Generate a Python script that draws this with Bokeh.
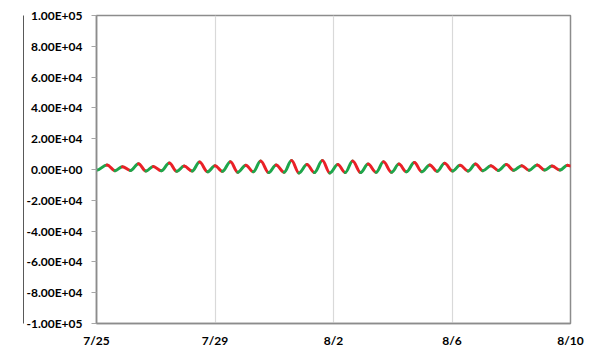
from bokeh.plotting import figure
from bokeh.models import Range1d, FixedTicker, ColumnDataSource, LinearAxis
from bokeh.embed import file_html
from bokeh.resources import INLINE

# extrema of the record: time (hours after 7/25 00:00) and value
hours = [0, 8.5, 15, 21, 27.5, 34, 40, 46, 52.5, 59, 65, 71, 77.5, 83.5, 90, 96,
         102, 108.5, 114.5, 121, 127, 133, 139.5, 145.5, 152, 158, 164, 170.5,
         176.5, 183, 189, 195.5, 201.5, 207.5, 214, 220, 226.5, 232.5, 239, 245,
         251, 257.5, 263.5, 270, 276, 282, 288.5, 294.5, 301, 307, 313, 319.5,
         325.5, 332, 338, 344.5, 350.5, 357, 363, 369, 375.5, 381.5, 384]
values = [-500, 3000, -800, 1800, -600, 3800, -1000, 2000, -800, 4200, -1200,
          2200, -1000, 4800, -1500, 2500, -1200, 5000, -1800, 2800, -1500, 5500,
          -2000, 3000, -1800, 5800, -2200, 3200, -2000, 5800, -2200, 3200, -2000,
          5500, -2000, 3500, -1800, 5000, -1800, 3500, -1500, 4500, -1500, 3000,
          -1200, 4000, -1000, 2800, -1000, 3500, -800, 2500, -600, 3200, -500,
          2500, -500, 3000, -400, 2200, -400, 2800, 2300]

x_tick_days = [0, 4, 8, 12, 16]
x_tick_labels = ["7/25", "7/29", "8/2", "8/6", "8/10"]
y_ticks = [-100000, -80000, -60000, -40000, -20000, 0, 20000, 40000, 60000, 80000, 100000]

rise_color = "#1ea64b"
fall_color = "#ea2027"

x0, y0, x1, y1, cx0, cy0, cx1, cy1, cols = [], [], [], [], [], [], [], [], []
for i in range(len(hours) - 1):
    a, b = hours[i] / 24.0, hours[i + 1] / 24.0
    va, vb = values[i], values[i + 1]
    d = b - a
    x0.append(a); y0.append(va); x1.append(b); y1.append(vb)
    cx0.append(a + 0.364 * d); cy0.append(va)
    cx1.append(b - 0.364 * d); cy1.append(vb)
    cols.append(rise_color if vb > va else fall_color)

src = ColumnDataSource(dict(x0=x0, y0=y0, x1=x1, y1=y1, cx0=cx0, cy0=cy0,
                            cx1=cx1, cy1=cy1, c=cols))

p = figure(width=592, height=350, output_backend="svg", toolbar_location=None,
           x_range=Range1d(0, 16), y_range=Range1d(-100000, 100000),
           min_border_left=96, min_border_right=22, min_border_top=15,
           min_border_bottom=26)

p.bezier(x0="x0", y0="y0", x1="x1", y1="y1", cx0="cx0", cy0="cy0",
         cx1="cx1", cy1="cy1", source=src, line_color="c", line_width=3,
         line_cap="round")

p.outline_line_color = "#8c8c8c"
p.outline_line_width = 1.5

p.xaxis.ticker = FixedTicker(ticks=x_tick_days)
p.xaxis.major_label_overrides = {d: l for d, l in zip(x_tick_days, x_tick_labels)}
p.yaxis.ticker = FixedTicker(ticks=y_ticks)
p.yaxis.major_label_overrides = {v: f"{v:.2E}" for v in y_ticks}

for ax in (p.xaxis[0], p.yaxis[0]):
    ax.major_label_text_font = "Lato"
    ax.major_label_text_font_style = "bold"
    ax.major_label_text_font_size = "12px"
    ax.major_label_text_color = "#000000"
    ax.minor_tick_line_color = None
    ax.axis_line_color = "#8c8c8c"
    ax.axis_line_width = 1.5
    ax.major_tick_in = 0

p.xaxis.major_tick_out = 0
p.xaxis.major_label_standoff = 9
p.yaxis.major_tick_out = 5
p.yaxis.major_tick_line_color = "#a6a6a6"
p.yaxis.major_label_standoff = 9

p.xgrid.ticker = FixedTicker(ticks=x_tick_days)
p.xgrid.grid_line_color = "#d9d9d9"
p.xgrid.grid_line_width = 1.2
p.ygrid.grid_line_color = None

# outer chart-area border on the left: an empty axis just outside the labels
edge = LinearAxis(ticker=FixedTicker(ticks=[]), axis_line_color="#595959",
                  axis_line_width=1, major_tick_line_color=None,
                  minor_tick_line_color=None, major_label_text_font_size="0px",
                  major_tick_out=0, minor_tick_out=0, major_label_standoff=0)
p.add_layout(edge, "left")

open("out.html", "w").write(file_html(p, INLINE))
